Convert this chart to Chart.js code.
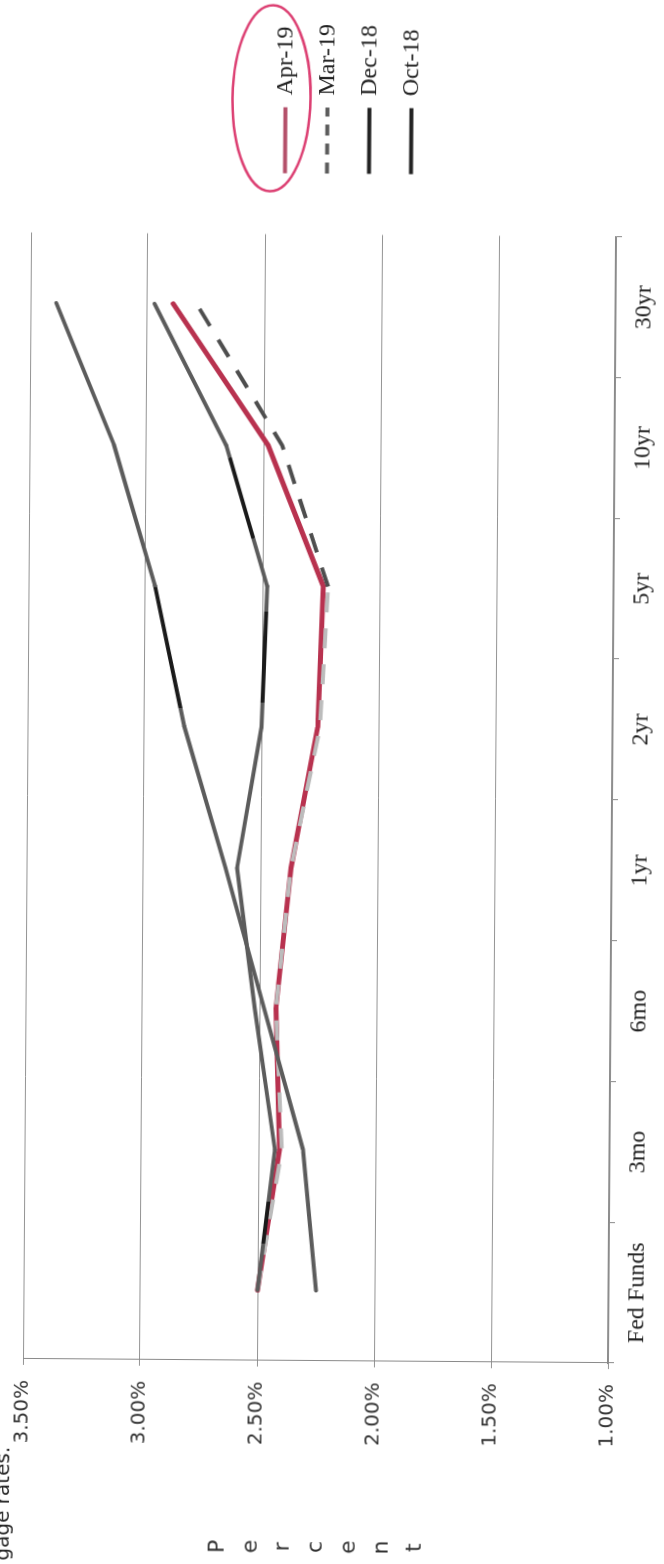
<!DOCTYPE html>
<html>
<head>
<meta charset="utf-8">
<script src="https://cdn.jsdelivr.net/npm/chart.js@4.4.1/dist/chart.umd.min.js"></script>
<style>
  html, body { margin: 0; padding: 0; background: #fff; overflow: hidden; width: 664px; height: 1564px; }
  /* the page sits a hair off square on the sheet */
  #page { position: absolute; left: 0; top: 0; width: 664px; height: 1564px;
          transform-origin: 316px 800px; transform: rotate(0.41deg); }
  /* the chart is laid out landscape and turned a quarter turn onto the portrait page */
  #sheet { position: absolute; left: 0; top: 1564px; width: 1564px; height: 664px;
           transform-origin: 0 0; transform: rotate(-90deg); }
  canvas { display: block; }
</style>
</head>
<body>
<div id="page"><div id="sheet"><canvas id="curve" width="1564" height="664"></canvas></div></div>
<script>
// Treasury yield curve, four snapshots (percent)
const categories = ['Fed Funds', '3mo', '6mo', '1yr', '2yr', '5yr', '10yr', '30yr'];
const apr19 = [2.50, 2.41, 2.43, 2.37, 2.26, 2.24, 2.48, 2.89];
const mar19 = [2.50, 2.40, 2.43, 2.37, 2.25, 2.22, 2.42, 2.79];
const dec18 = [2.50, 2.43, 2.52, 2.60, 2.50, 2.48, 2.66, 2.97];
const oct18 = [2.25, 2.31, 2.48, 2.65, 2.83, 2.96, 3.14, 3.39];
const seriesNames = ['Apr-19', 'Mar-19', 'Dec-18', 'Oct-18'];
const valueTicks = [1.0, 1.5, 2.0, 2.5, 3.0, 3.5];
const valueTickLabels = ['1.00%', '1.50%', '2.00%', '2.50%', '3.00%', '3.50%'];
const axisTitle = 'Percent';
const pageText = 'gage rates.';

const canvas = document.getElementById('curve');
const g2d = canvas.getContext('2d');

// darker pen strokes over parts of the grey curves: segment start index -> [from, to] along the segment
const inkOct = { 4: [0.13, 1.0] };
const inkDec = { 0: [0.33, 0.63], 4: [0.17, 0.82], 5: [0.34, 0.91] };
function inked(base, ink, marks) {
  return (ctx) => {
    const r = marks[ctx.p0DataIndex];
    if (!r || !ctx.p0 || !ctx.p1) return base;
    const grad = g2d.createLinearGradient(ctx.p0.x, ctx.p0.y, ctx.p1.x, ctx.p1.y);
    grad.addColorStop(0, base);
    grad.addColorStop(r[0], base);
    grad.addColorStop(r[0], ink);
    grad.addColorStop(r[1], ink);
    grad.addColorStop(r[1], base);
    grad.addColorStop(1, base);
    return grad;
  };
}

const legendInk = ['#b4506a', '#5c5c5c', '#232323', '#232323'];
const legendDash = [[], [11, 8], [], []];

const decorations = {
  id: 'decorations',
  afterDraw(chart) {
    const c = chart.ctx;
    const a = chart.chartArea;
    c.save();
    // stacked axis title at the far left
    c.fillStyle = '#333';
    c.font = '22px "DejaVu Sans"';
    c.textAlign = 'center';
    c.textBaseline = 'middle';
    const letters = axisTitle.split('');
    const step = 32.8;
    const mid = (a.top + a.bottom) / 2 + 2;
    letters.forEach((ch, i) => c.fillText(ch, 17, mid + (i - (letters.length - 1) / 2) * step));
    // running text of the page, clipped by the top edge
    c.font = '20px "DejaVu Sans"';
    c.textAlign = 'right';
    c.textBaseline = 'alphabetic';
    c.fillStyle = '#222';
    c.fillText(pageText, 115, 14);
    // hand-drawn ring around the first legend entry
    const hb = chart.legend.legendHitBoxes[0];
    if (hb) {
      const cx = hb.left + hb.width / 2 + 1.5;
      const cy = hb.top + hb.height / 2 - 14;
      c.beginPath();
      c.ellipse(cx, cy, 93, 39, 0.01, 0, Math.PI * 2);
      c.strokeStyle = '#dc3f72';
      c.lineWidth = 2.5;
      c.stroke();
    }
    c.restore();
  }
};

Chart.defaults.font.family = '"DejaVu Sans", sans-serif';

new Chart(canvas, {
  type: 'line',
  data: {
    labels: categories,
    datasets: [
      { label: seriesNames[0], data: apr19, borderColor: '#b8324f', borderWidth: 5,
        borderCapStyle: 'round', borderJoinStyle: 'round', order: 4 },
      { label: seriesNames[1], data: mar19, borderColor: '#555', borderWidth: 4,
        borderDash: [20, 16], borderCapStyle: 'butt', order: 3,
        segment: { borderColor: (ctx) => ctx.p0DataIndex >= 5 ? '#4e4e4e' : '#bcbcbc' } },
      { label: seriesNames[2], data: dec18, borderColor: '#5c5c5c', borderWidth: 4,
        borderCapStyle: 'round', borderJoinStyle: 'round', order: 2,
        segment: { borderColor: inked('#5c5c5c', '#1a1a1a', inkDec) } },
      { label: seriesNames[3], data: oct18, borderColor: '#5c5c5c', borderWidth: 4,
        borderCapStyle: 'round', borderJoinStyle: 'round', order: 1,
        segment: { borderColor: inked('#5c5c5c', '#1a1a1a', inkOct) } }
    ]
  },
  options: {
    responsive: false,
    devicePixelRatio: 1,
    animation: false,
    events: [],
    elements: { point: { radius: 0 }, line: { tension: 0, fill: false } },
    layout: { padding: { left: 103.5, right: 14, top: 23, bottom: 0 } },
    scales: {
      x: {
        offset: true,
        grid: { display: true, offset: true, drawOnChartArea: false, drawTicks: true,
                tickLength: 6, color: '#8a8a8a', lineWidth: 1 },
        border: { display: true, color: '#8a8a8a', width: 1.5 },
        ticks: { padding: 11, color: '#222', autoSkip: false, maxRotation: 0,
                 font: { family: '"Liberation Serif", serif', size: 24, lineHeight: 1 } }
      },
      y: {
        min: 1, max: 3.5,
        afterBuildTicks: (s) => { s.ticks = valueTicks.map((v) => ({ value: v })); },
        grid: { color: '#949494', lineWidth: 1, tickLength: 6 },
        border: { display: true, color: '#8a8a8a', width: 1 },
        ticks: { padding: 15, color: '#333', font: { size: 20 },
                 callback: (v, i) => valueTickLabels[i] }
      },
      spacer: {
        type: 'linear', position: 'right', display: true,
        grid: { display: false }, border: { display: false }, ticks: { display: false },
        afterFit: (s) => { s.width = 43; }
      }
    },
    plugins: {
      tooltip: { enabled: false },
      legend: {
        position: 'right',
        align: 'center',
        labels: {
          usePointStyle: true, pointStyle: 'line', pointStyleWidth: 66,
          padding: 18, color: '#222',
          font: { family: '"Liberation Serif", serif', size: 24 },
          sort: (a, b) => a.datasetIndex - b.datasetIndex,
          generateLabels: (chart) => Chart.defaults.plugins.legend.labels.generateLabels(chart)
            .map((it) => Object.assign(it, {
              strokeStyle: legendInk[it.datasetIndex],
              fillStyle: legendInk[it.datasetIndex],
              lineDash: legendDash[it.datasetIndex],
              lineWidth: 4
            }))
        }
      }
    }
  },
  plugins: [decorations]
});
</script>
</body>
</html>
